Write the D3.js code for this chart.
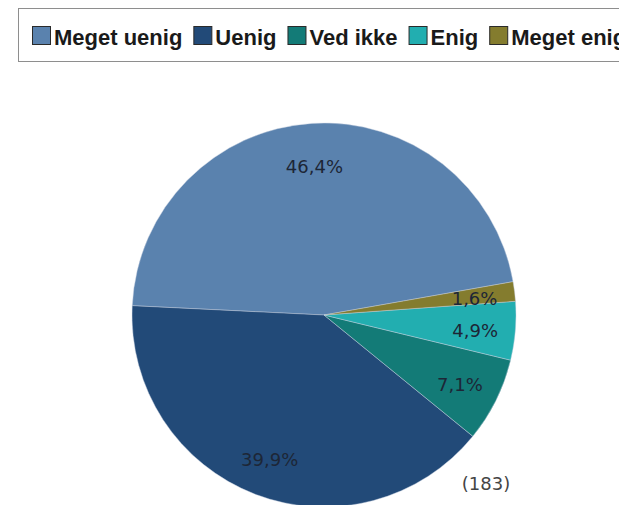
<!DOCTYPE html>
<html>
<head>
<meta charset="utf-8">
<script src="https://cdn.jsdelivr.net/npm/d3@7"></script>
<style>
  html, body { margin: 0; padding: 0; background: #ffffff; }
  svg { display: block; }
</style>
</head>
<body>
<svg id="chart" width="619" height="505"></svg>
<script>
// ---- Data ----
const categories = ["Meget uenig", "Uenig", "Ved ikke", "Enig", "Meget enig"];
const counts = [85, 73, 13, 9, 3];
const respondents = 183;
const colors = ["#5a82ae", "#224a78", "#137b77", "#22aeb0", "#847c2e"];

// ---- Layout ----
const W = 619, H = 505;
const cx = 324, cy = 315, R = 192;
const startDeg = 80; // d3 angle (clockwise from north), slices run anticlockwise

const svg = d3.select("#chart");
svg.append("rect").attr("width", W).attr("height", H).attr("fill", "#fff");

// ---- Legend ----
const legend = svg.append("g");
legend.append("rect")
  .attr("x", 18.5).attr("y", 8.5)
  .attr("width", 700).attr("height", 53)
  .attr("fill", "#fff")
  .attr("stroke", "#8e8e8e").attr("stroke-width", 1);

let lx = 32;
categories.forEach((c, i) => {
  legend.append("rect")
    .attr("x", lx + 0.5).attr("y", 26.5)
    .attr("width", 18).attr("height", 18)
    .attr("fill", colors[i])
    .attr("stroke", "#2a2a2a").attr("stroke-width", 1);
  const t = legend.append("text")
    .attr("x", lx + 22).attr("y", 45)
    .attr("font-family", "'Liberation Sans', Arial, sans-serif")
    .attr("font-weight", "bold")
    .attr("font-size", 22)
    .attr("fill", "#1a1a1a")
    .text(c);
  const w = t.node().getComputedTextLength();
  lx = lx + 22 + w + 11;
});

// ---- Pie ----
const pie = d3.pie()
  .sort(null)
  .value(d => d)
  .startAngle(startDeg * Math.PI / 180)
  .endAngle(startDeg * Math.PI / 180 - 2 * Math.PI);

const arcs = pie(counts);
const arc = d3.arc().innerRadius(0).outerRadius(R);
const labelArc = d3.arc().innerRadius(R * 0.79).outerRadius(R * 0.79);

const g = svg.append("g").attr("transform", `translate(${cx},${cy})`);

g.selectAll("path.slice")
  .data(arcs)
  .enter().append("path")
  .attr("class", "slice")
  .attr("d", arc)
  .attr("fill", (d, i) => colors[i])
  .attr("stroke", "rgba(200,210,225,0.55)")
  .attr("stroke-width", 0.8);

const fmt = d3.format(".1f");
g.selectAll("text.lbl")
  .data(arcs)
  .enter().append("text")
  .attr("class", "lbl")
  .attr("transform", d => `translate(${labelArc.centroid(d)})`)
  .attr("dy", "0.5em")
  .attr("text-anchor", "middle")
  .attr("font-family", "'DejaVu Sans', Verdana, sans-serif")
  .attr("font-size", 18)
  .attr("fill", "#1d2636")
  .text(d => fmt(d.value / respondents * 100).replace(".", ",") + "%");

// ---- Respondent count ----
svg.append("text")
  .attr("x", 486).attr("y", 490)
  .attr("text-anchor", "middle")
  .attr("font-family", "'DejaVu Sans', Verdana, sans-serif")
  .attr("font-size", 18)
  .attr("fill", "#444")
  .text(`(${respondents})`);
</script>
</body>
</html>
